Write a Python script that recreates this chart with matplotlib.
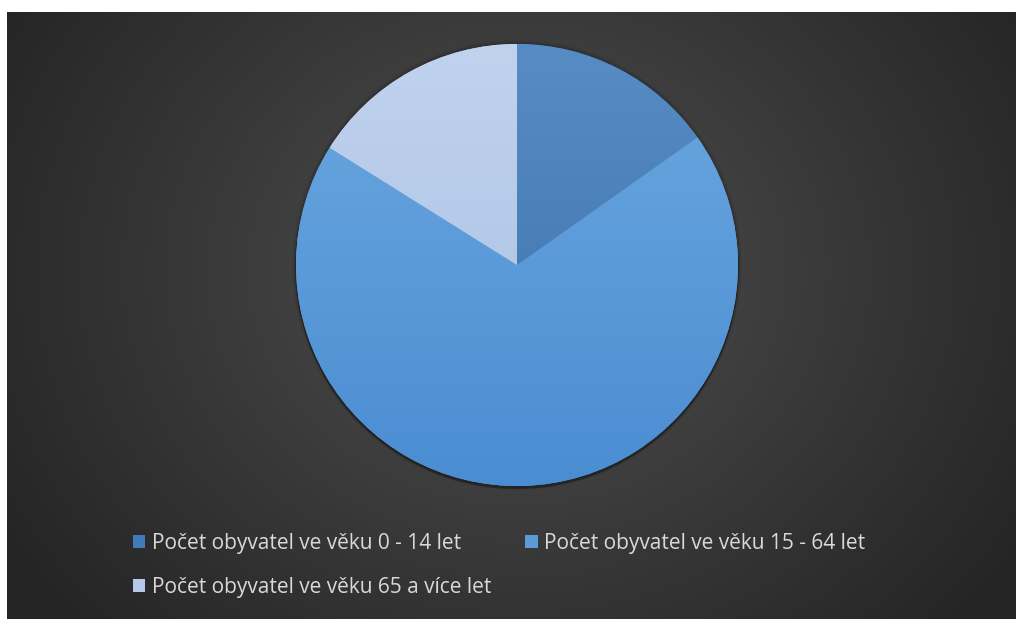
import numpy as np
import matplotlib
matplotlib.use("Agg")
import matplotlib.pyplot as plt
from matplotlib.patches import Patch, Circle
from matplotlib.colors import to_rgb

categories = ["Počet obyvatel ve věku 0 - 14 let",
              "Počet obyvatel ve věku 15 - 64 let",
              "Počet obyvatel ve věku 65 a více let"]
values = [15.2, 68.7, 16.1]
colors = ["#4279b8", "#5b9bd5", "#b4c8e8"]
tops = ["#578cc4", "#6ca8e0", "#bfd2ee"]
bottoms = ["#396ea8", "#4a8dd2", "#a9c0e3"]

W, H = 1017, 619
fig = plt.figure(figsize=(W / 100, H / 100), dpi=100)
fig.patch.set_facecolor("white")

# dark radial gradient background
bx0, bx1, by0, by1 = 7, 1016, 12, 619
bg = fig.add_axes([bx0 / W, 0, (bx1 - bx0) / W, (by1 - by0) / H])
bg.set_axis_off()
yy, xx = np.mgrid[by0:by1, bx0:bx1]
d = np.sqrt((xx - 517) ** 2 + ((yy - 270) * 1.15) ** 2)
t = np.clip(d / 600, 0, 1) ** 0.9
c0 = np.array(to_rgb("#525252"))
c1 = np.array(to_rgb("#252525"))
img = c0[None, None, :] * (1 - t[..., None]) + c1[None, None, :] * t[..., None]
bg.imshow(img, aspect="auto", extent=[0, 1, 0, 1], origin="upper")
bg.set_xlim(0, 1)
bg.set_ylim(0, 1)

# pie
cx, cy, r = 517, 265, 221
ax = fig.add_axes([(cx - r) / W, (H - cy - r) / H, 2 * r / W, 2 * r / H])
ax.set_axis_off()
# soft shadow / halo
for rr, al in [(1.018, 0.06), (1.01, 0.1)]:
    ax.add_patch(Circle((0, 0), rr, facecolor="black", alpha=al,
                        edgecolor="none", zorder=0, clip_on=False))
ax.add_patch(Circle((0, -0.01), 1.004, facecolor="black", alpha=0.3,
                    edgecolor="none", zorder=0, clip_on=False))
wedges, _ = ax.pie(values, colors=colors, startangle=90, counterclock=False,
                   radius=1, wedgeprops=dict(linewidth=0))
gy = np.linspace(0, 1, 256)[:, None]
for w, ct, cb in zip(wedges, tops, bottoms):
    a = np.array(to_rgb(ct))
    b = np.array(to_rgb(cb))
    grad = a[None, None, :] * (1 - gy[..., None]) + b[None, None, :] * gy[..., None]
    grad = np.repeat(grad, 2, axis=1)
    im = ax.imshow(grad, extent=[-1, 1, -1, 1], origin="upper", aspect="auto", zorder=2)
    im.set_clip_path(w)
ax.set_xlim(-1, 1)
ax.set_ylim(-1, 1)

handles = [Patch(facecolor=c, edgecolor="none") for c in colors]
order = [0, 2, 1]
leg = fig.legend([handles[i] for i in order], [categories[i] for i in order],
                 ncol=2, loc="upper left", bbox_to_anchor=(114 / W, 1 - 514 / H),
                 frameon=False,
                 handlelength=0.6, handleheight=0.6, handletextpad=0.3,
                 columnspacing=1.65, labelspacing=1.1,
                 prop={"family": "Open Sans", "size": 15})
for txt in leg.get_texts():
    txt.set_color("#d9d9d9")

fig.savefig("out.png", dpi=100, facecolor=fig.get_facecolor())
